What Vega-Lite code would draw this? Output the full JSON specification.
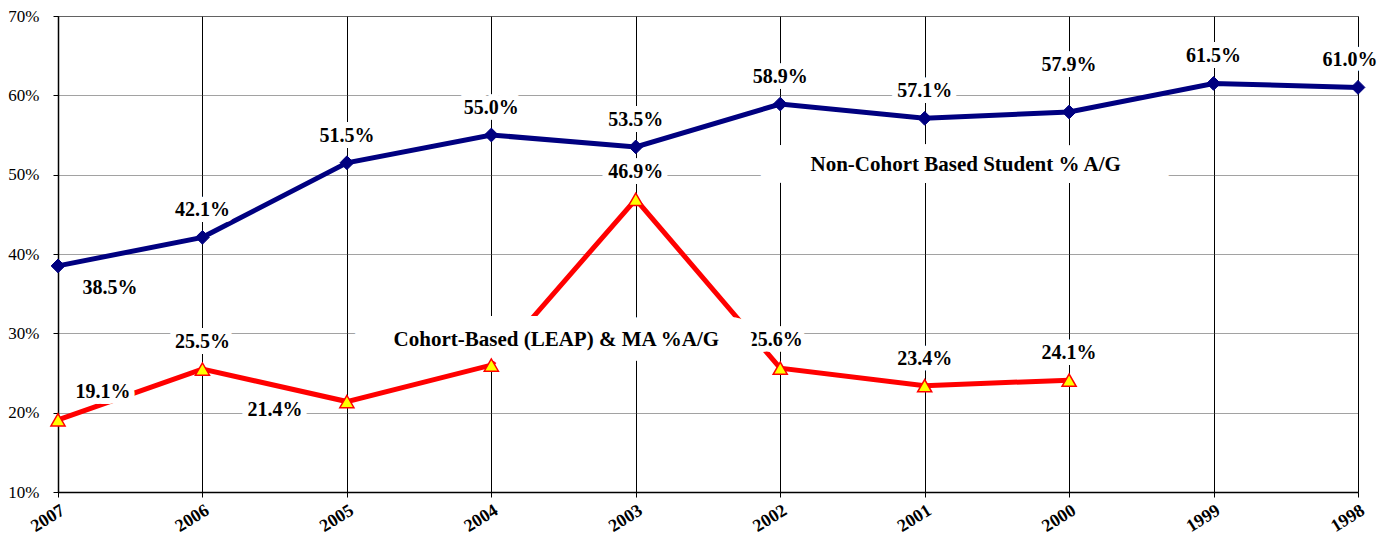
{
  "$schema": "https://vega.github.io/schema/vega-lite/v6.json",
  "width": 1300,
  "height": 476,
  "autosize": {"type": "none"},
  "padding": {"left": 58, "top": 16, "right": 37, "bottom": 44},
  "background": "white",
  "config": {
    "view": {"stroke": "#808080", "strokeWidth": 1},
    "font": "Liberation Serif",
    "text": {"font": "Liberation Serif"},
    "axis": {"labelFont": "Liberation Serif", "labelColor": "black", "domainColor": "black", "tickColor": "black"}
  },
  "datasets": {
    "rates": [
      {"year": "2007", "series": "noncohort", "value": 0.385},
      {"year": "2006", "series": "noncohort", "value": 0.421},
      {"year": "2005", "series": "noncohort", "value": 0.515},
      {"year": "2004", "series": "noncohort", "value": 0.550},
      {"year": "2003", "series": "noncohort", "value": 0.535},
      {"year": "2002", "series": "noncohort", "value": 0.589},
      {"year": "2001", "series": "noncohort", "value": 0.571},
      {"year": "2000", "series": "noncohort", "value": 0.579},
      {"year": "1999", "series": "noncohort", "value": 0.615},
      {"year": "1998", "series": "noncohort", "value": 0.610},
      {"year": "2007", "series": "cohort", "value": 0.191},
      {"year": "2006", "series": "cohort", "value": 0.255},
      {"year": "2005", "series": "cohort", "value": 0.214},
      {"year": "2004", "series": "cohort", "value": 0.260},
      {"year": "2003", "series": "cohort", "value": 0.469},
      {"year": "2002", "series": "cohort", "value": 0.256},
      {"year": "2001", "series": "cohort", "value": 0.234},
      {"year": "2000", "series": "cohort", "value": 0.241}
    ],
    "notes": [
      {"year": "2004", "value": 0.2922, "label": "Cohort-Based (LEAP) & MA %A/G", "series": "cohort"},
      {"year": "2001", "value": 0.5122, "label": "Non-Cohort Based Student % A/G", "series": "noncohort"}
    ]
  },
  "data": {"name": "rates"},
  "encoding": {
    "x": {
      "field": "year", "type": "ordinal",
      "sort": ["2007", "2006", "2005", "2004", "2003", "2002", "2001", "2000", "1999", "1998"],
      "scale": {"type": "point", "padding": 0},
      "axis": {"title": null, "labelAngle": -32, "labelAlign": "right", "labelBaseline": "top", "labelFontWeight": "bold", "labelFontSize": 18, "tickSize": 5, "labelPadding": 4, "grid": true, "gridColor": "black", "gridWidth": 1, "domainWidth": 1.5}
    },
    "y": {
      "field": "value", "type": "quantitative",
      "scale": {"domain": [0.1, 0.7]},
      "axis": {"title": null, "format": ".0%", "values": [0.1, 0.2, 0.3, 0.4, 0.5, 0.6, 0.7], "labelFontSize": 17, "tickSize": 5, "labelPadding": 14, "grid": true, "gridColor": "#444444", "gridDash": [1, 1], "domainWidth": 1.5}
    }
  },
  "layer": [
    {"transform": [{"filter": "datum.series == 'noncohort'"}], "mark": {"type": "line", "color": "#000080", "strokeWidth": 5}},
    {"transform": [{"filter": "datum.series == 'cohort'"}], "mark": {"type": "line", "color": "#FF0000", "strokeWidth": 5}},
    {
      "transform": [{"filter": "(datum.series == 'noncohort' && datum.year != '2007' && datum.year != '2000' && datum.year != '1998') || (datum.series == 'cohort' && (datum.year == '2006' || datum.year == '2003' || datum.year == '2001' || datum.year == '2000'))"}],
      "encoding": {"text": {"field": "value", "type": "quantitative", "format": ".1%"}},
      "layer": [
        {"mark": {"type": "text", "fontSize": 20, "fontWeight": "bold", "baseline": "middle", "dy": -27, "fill": "white", "stroke": "white", "strokeWidth": 12, "strokeJoin": "round"}},
        {"mark": {"type": "text", "fontSize": 20, "fontWeight": "bold", "baseline": "middle", "dy": -27, "fill": "black"}}
      ]
    },
    {
      "transform": [{"filter": "datum.series == 'noncohort' && datum.year == '1998'"}],
      "encoding": {"text": {"field": "value", "type": "quantitative", "format": ".1%"}},
      "layer": [
        {"mark": {"type": "text", "fontSize": 20, "fontWeight": "bold", "baseline": "middle", "dx": -8, "dy": -27, "fill": "white", "stroke": "white", "strokeWidth": 12, "strokeJoin": "round"}},
        {"mark": {"type": "text", "fontSize": 20, "fontWeight": "bold", "baseline": "middle", "dx": -8, "dy": -27, "fill": "black"}}
      ]
    },
    {
      "transform": [{"filter": "datum.series == 'cohort' && datum.year == '2002'"}],
      "encoding": {"text": {"field": "value", "type": "quantitative", "format": ".1%"}},
      "layer": [
        {"mark": {"type": "text", "fontSize": 20, "fontWeight": "bold", "baseline": "middle", "dx": -5, "dy": -28, "fill": "white", "stroke": "white", "strokeWidth": 12, "strokeJoin": "round"}},
        {"mark": {"type": "text", "fontSize": 20, "fontWeight": "bold", "baseline": "middle", "dx": -5, "dy": -28, "fill": "black"}}
      ]
    },
    {
      "transform": [{"filter": "datum.series == 'noncohort' && datum.year == '2000'"}],
      "encoding": {"text": {"field": "value", "type": "quantitative", "format": ".1%"}},
      "layer": [
        {"mark": {"type": "text", "fontSize": 20, "fontWeight": "bold", "baseline": "middle", "dy": -47, "fill": "white", "stroke": "white", "strokeWidth": 12, "strokeJoin": "round"}},
        {"mark": {"type": "text", "fontSize": 20, "fontWeight": "bold", "baseline": "middle", "dy": -47, "fill": "black"}}
      ]
    },
    {
      "transform": [{"filter": "datum.series == 'noncohort' && datum.year == '2007'"}],
      "encoding": {"text": {"field": "value", "type": "quantitative", "format": ".1%"}},
      "layer": [
        {"mark": {"type": "text", "fontSize": 20, "fontWeight": "bold", "baseline": "middle", "dx": 52, "dy": 22, "fill": "white", "stroke": "white", "strokeWidth": 12, "strokeJoin": "round"}},
        {"mark": {"type": "text", "fontSize": 20, "fontWeight": "bold", "baseline": "middle", "dx": 52, "dy": 22, "fill": "black"}}
      ]
    },
    {
      "transform": [{"filter": "datum.series == 'cohort' && datum.year == '2007'"}],
      "encoding": {"text": {"field": "value", "type": "quantitative", "format": ".1%"}},
      "layer": [
        {"mark": {"type": "text", "fontSize": 20, "fontWeight": "bold", "baseline": "middle", "dx": 45, "dy": -28, "fill": "white", "stroke": "white", "strokeWidth": 12, "strokeJoin": "round"}},
        {"mark": {"type": "text", "fontSize": 20, "fontWeight": "bold", "baseline": "middle", "dx": 45, "dy": -28, "fill": "black"}}
      ]
    },
    {
      "transform": [{"filter": "datum.series == 'cohort' && datum.year == '2005'"}],
      "encoding": {"text": {"field": "value", "type": "quantitative", "format": ".1%"}},
      "layer": [
        {"mark": {"type": "text", "fontSize": 20, "fontWeight": "bold", "baseline": "middle", "dx": -72, "dy": 8, "fill": "white", "stroke": "white", "strokeWidth": 12, "strokeJoin": "round"}},
        {"mark": {"type": "text", "fontSize": 20, "fontWeight": "bold", "baseline": "middle", "dx": -72, "dy": 8, "fill": "black"}}
      ]
    },
    {
      "data": {"name": "notes"},
      "transform": [{"filter": "datum.series == 'cohort'"}],
      "encoding": {"text": {"field": "label", "type": "nominal"}},
      "layer": [
        {"mark": {"type": "text", "fontSize": 21, "fontWeight": "bold", "baseline": "middle", "dx": 40, "fill": "white", "stroke": "white", "strokeWidth": 30, "strokeJoin": "round"}},
        {"mark": {"type": "text", "fontSize": 21, "fontWeight": "bold", "baseline": "middle", "dx": 84, "fill": "white", "stroke": "white", "strokeWidth": 30, "strokeJoin": "round"}},
        {"mark": {"type": "text", "fontSize": 21, "fontWeight": "bold", "baseline": "middle", "dx": 65, "fill": "black"}}
      ]
    },
    {
      "data": {"name": "notes"},
      "transform": [{"filter": "datum.series == 'noncohort'"}],
      "encoding": {"text": {"field": "label", "type": "nominal"}},
      "layer": [
        {"mark": {"type": "text", "fontSize": 21, "fontWeight": "bold", "baseline": "middle", "dx": 2, "fill": "white", "stroke": "white", "strokeWidth": 24, "strokeJoin": "round"}},
        {"mark": {"type": "text", "fontSize": 21, "fontWeight": "bold", "baseline": "middle", "dx": 80, "fill": "white", "stroke": "white", "strokeWidth": 24, "strokeJoin": "round"}},
        {"mark": {"type": "text", "fontSize": 21, "fontWeight": "bold", "baseline": "middle", "dx": 41, "fill": "black"}}
      ]
    },
    {"transform": [{"filter": "datum.series == 'noncohort'"}], "mark": {"type": "point", "shape": "diamond", "filled": true, "fill": "#000080", "stroke": "#000080", "strokeWidth": 1, "size": 190, "opacity": 1}},
    {"transform": [{"filter": "datum.series == 'cohort'"}], "mark": {"type": "point", "shape": "triangle-up", "filled": true, "fill": "#FFFF00", "stroke": "#FF0000", "strokeWidth": 1.5, "size": 200, "opacity": 1}}
  ]
}
